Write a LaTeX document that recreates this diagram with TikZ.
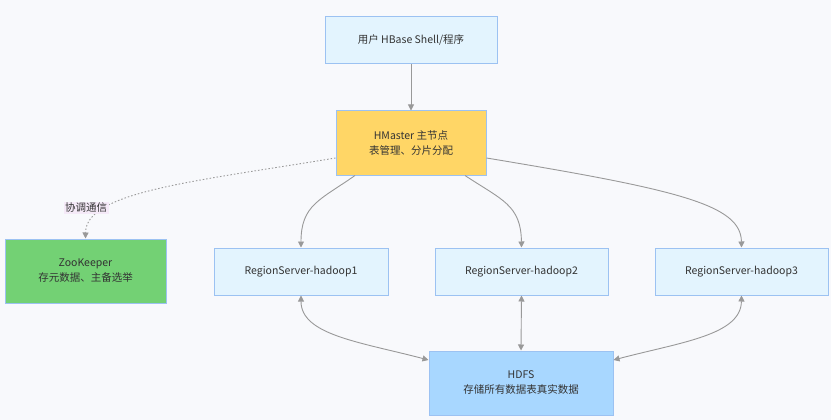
\documentclass[tikz,border=0pt]{standalone}
\usepackage{fontspec}
\setmainfont{Noto Sans CJK SC}
\usetikzlibrary{arrows.meta}
\definecolor{bg}{HTML}{F8F9FC}
\definecolor{nodeblue}{HTML}{E3F4FE}
\definecolor{bordblue}{HTML}{9CC2F2}
\definecolor{hmyellow}{HTML}{FFD666}
\definecolor{zkgreen}{HTML}{73D174}
\definecolor{hdfsblue}{HTML}{A8D7FF}
\definecolor{edgegray}{HTML}{999999}
\definecolor{txt}{HTML}{333333}
\definecolor{lblbg}{HTML}{F5EAF8}
\begin{document}
\begin{tikzpicture}[x=1pt,y=-1pt,
  box/.style={draw=bordblue,line width=1pt,fill=nodeblue,text=txt,font=\fontsize{10.5}{15}\selectfont,align=center,inner sep=0pt},
  conn/.style={draw=edgegray,line width=0.9pt,-{Triangle[length=6pt,width=6pt]}},
  biconn/.style={draw=edgegray,line width=0.9pt,{Triangle[length=6pt,width=6pt]}-{Triangle[length=6pt,width=6pt]}},
  dotconn/.style={draw=edgegray,line width=0.9pt,dash pattern=on 1.5pt off 2pt,-{Triangle[length=6pt,width=6pt]}},
  lblstyle/.style={fill=lblbg,text=txt,font=\fontsize{10.5}{12}\selectfont,inner sep=1.5pt}]
\fill[bg] (0,0) rectangle (831,420);
\useasboundingbox (0,0) rectangle (831,420);
\node[box,minimum width=172pt,minimum height=47pt] (user) at (411,40.5) {用户 HBase Shell/程序};
\node[box,fill=hmyellow,minimum width=150pt,minimum height=64pt] (hm) at (411,143) {HMaster 主节点\\表管理、分片分配};
\node[box,fill=zkgreen,minimum width=161pt,minimum height=64pt] (zk) at (85.5,271) {ZooKeeper\\存元数据、主备选举};
\node[box,minimum width=174pt,minimum height=47pt] (rs1) at (301,271.5) {RegionServer-hadoop1};
\node[box,minimum width=173pt,minimum height=47pt] (rs2) at (521.5,271.5) {RegionServer-hadoop2};
\node[box,minimum width=173pt,minimum height=47pt] (rs3) at (741.5,271.5) {RegionServer-hadoop3};
\node[box,fill=hdfsblue,minimum width=184pt,minimum height=64pt] (hdfs) at (521,383) {HDFS\\存储所有数据表真实数据};
\coordinate (hmL) at ([yshift=-15pt]hm.west);
\coordinate (hmR) at ([yshift=-15pt]hm.east);
\coordinate (hmB1) at ([xshift=-56pt]hm.south);
\coordinate (hmB2) at ([xshift=54pt]hm.south);
\coordinate (hdL) at ([yshift=23pt]hdfs.west);
\coordinate (hdR) at ([yshift=23pt]hdfs.east);
\draw[conn] (user) -- (hm);
\draw[dotconn] (hmL) .. controls (190,182) and (86,192) .. (zk.north);
\node[lblstyle] (lbl) at (86,208) {协调通信};
\draw[conn] (hmB1) .. controls (320,200) and (301,205) .. (rs1.north);
\draw[conn] (hmB2) .. controls (502,200) and (521,205) .. (rs2.north);
\draw[conn] (hmR) .. controls (680,190) and (741,205) .. (rs3.north);
\draw[biconn] (rs1.south) .. controls (301,335) and (360,342) .. (hdL);
\draw[biconn] (rs2.south) -- (hdfs.north);
\draw[biconn] (rs3.south) .. controls (741,335) and (682,342) .. (hdR);
\end{tikzpicture}
\end{document}
